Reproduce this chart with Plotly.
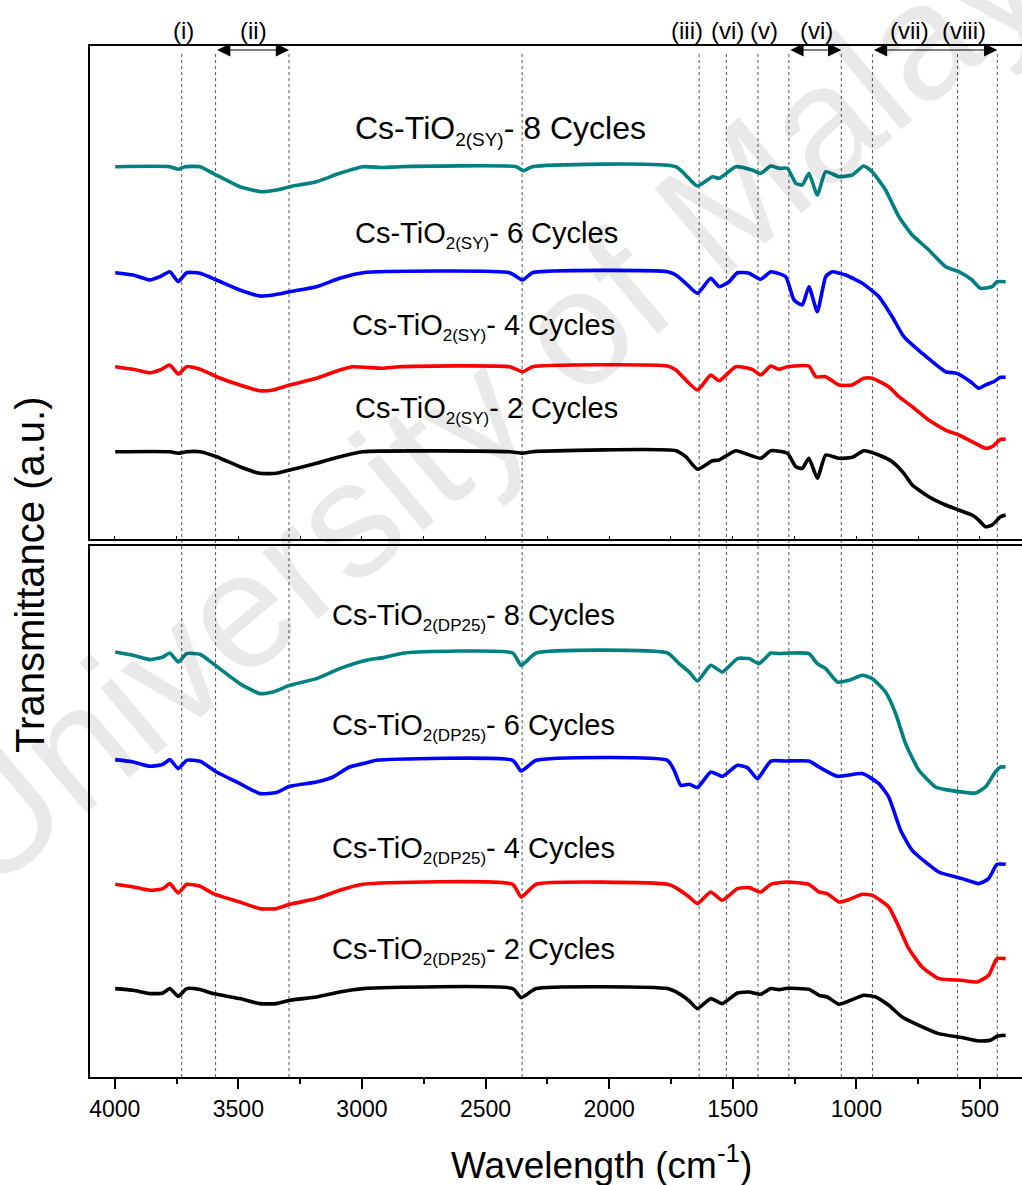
import plotly.graph_objects as go

FONT = "Arial, Liberation Sans, sans-serif"

# ---- FTIR spectra: wavenumber (cm-1) and offset transmittance (a.u.) ----
# Cs-TiO2(SY) series (upper panel)
wn_sy8 = [3998, 3777, 3743, 3716, 3655, 3602, 3494, 3406, 3346, 3292, 3184, 3090, 2996, 2916, 2848,
          2376, 2347, 2310, 1730, 1643, 1582, 1555, 1488, 1421, 1387, 1346, 1313, 1279, 1245, 1219,
          1192, 1158, 1124, 1070, 1017, 970, 936, 882, 828, 774, 707, 639, 586, 532, 498, 451, 431, 396]
t_sy8 = [372.3, 372.3, 369.7, 372.3, 372.3, 365.7, 352.3, 347.3, 349.0, 352.3, 357.3, 365.7, 372.3, 371.5, 372.3,
         372.3, 368.3, 372.3, 372.3, 353.0, 362.3, 360.7, 372.3, 369.0, 365.7, 373.0, 370.7, 370.7, 355.7, 354.0,
         365.7, 344.0, 367.3, 362.3, 364.0, 373.0, 367.3, 349.0, 322.3, 304.0, 289.0, 272.3, 267.3, 259.0, 250.7,
         252.3, 257.3, 257.3]

wn_sy6 = [3998, 3925, 3857, 3817, 3777, 3743, 3709, 3655, 3588, 3494, 3413, 3359, 3292, 3184, 3090, 2996,
          2403, 2350, 2310, 1764, 1730, 1690, 1643, 1589, 1555, 1515, 1481, 1434, 1387, 1346, 1286, 1252,
          1219, 1192, 1158, 1124, 1098, 1043, 976, 909, 855, 808, 734, 639, 593, 538, 505, 478, 444, 417, 396]
t_sy6 = [266.3, 264.0, 259.0, 262.3, 267.3, 257.3, 266.3, 265.7, 259.0, 249.0, 243.0, 244.0, 247.3, 252.3, 260.7,
         266.3, 266.3, 259.0, 266.3, 267.3, 264.0, 255.7, 245.7, 260.7, 252.3, 257.3, 266.3, 265.7, 259.7, 267.3,
         262.3, 239.0, 234.0, 252.3, 227.3, 262.3, 267.3, 264.0, 255.7, 242.3, 222.3, 202.3, 185.7, 167.3, 165.7,
         157.3, 150.7, 154.0, 157.3, 161.7, 161.7]

wn_sy4 = [3998, 3925, 3857, 3817, 3777, 3743, 3709, 3655, 3588, 3494, 3413, 3359, 3292, 3184, 3090, 3037,
          2916, 2848, 2403, 2350, 2310, 1764, 1730, 1643, 1589, 1555, 1488, 1421, 1387, 1346, 1313, 1279,
          1192, 1164, 1124, 1070, 1017, 970, 936, 869, 828, 774, 707, 639, 586, 532, 478, 451, 417, 396]
t_sy4 = [172.3, 169.7, 166.3, 169.0, 174.0, 165.0, 172.3, 169.7, 162.3, 154.0, 148.3, 149.0, 154.0, 160.7, 169.0,
         172.3, 170.7, 172.3, 172.3, 167.3, 172.3, 173.0, 169.0, 149.0, 164.0, 158.3, 172.3, 169.7, 164.0, 173.0,
         169.7, 172.3, 173.0, 162.3, 162.3, 154.0, 154.0, 160.7, 160.7, 152.3, 142.3, 132.3, 119.0, 109.0, 104.0,
         97.3, 90.7, 92.3, 99.7, 99.7]

wn_sy2 = [3998, 3777, 3743, 3709, 3655, 3588, 3494, 3413, 3346, 3292, 3184, 3090, 2996, 2403, 2350, 2310,
          1730, 1690, 1643, 1582, 1555, 1488, 1387, 1346, 1279, 1245, 1219, 1192, 1158, 1124, 1070, 1017,
          970, 909, 855, 808, 774, 707, 639, 586, 532, 505, 478, 451, 417, 396]
t_sy2 = [87.3, 87.3, 85.7, 87.3, 87.3, 82.3, 72.3, 65.7, 65.7, 69.0, 75.7, 82.3, 87.3, 87.3, 85.7, 87.3,
         88.3, 82.3, 69.7, 78.3, 79.0, 88.3, 80.7, 88.3, 85.7, 72.3, 70.7, 80.7, 60.7, 84.0, 80.7, 81.7,
         88.3, 84.0, 77.3, 65.7, 54.0, 42.3, 34.0, 29.0, 24.0, 19.0, 12.3, 14.0, 22.3, 24.0]

# Cs-TiO2(DP25) series (lower panel)
wn_dp8 = [3998, 3925, 3857, 3805, 3777, 3743, 3709, 3655, 3602, 3494, 3413, 3359, 3292, 3184, 3090, 2982,
          2915, 2827, 2390, 2356, 2295, 1764, 1717, 1676, 1643, 1589, 1542, 1481, 1434, 1394, 1346, 1313,
          1272, 1192, 1158, 1124, 1077, 1030, 976, 936, 882, 841, 801, 747, 680, 639, 518, 478, 438, 417, 396]
t_dp8 = [425.0, 421.7, 417.4, 420.0, 424.0, 415.0, 423.4, 422.7, 413.4, 393.4, 383.4, 385.0, 391.7, 398.4, 408.4,
         416.7, 419.4, 424.0, 424.0, 411.7, 424.0, 424.0, 413.4, 405.0, 396.0, 411.7, 405.0, 418.4, 418.4, 413.4,
         424.0, 423.4, 424.0, 423.4, 413.4, 408.4, 395.0, 396.7, 401.7, 398.4, 385.0, 363.4, 333.4, 306.7, 290.0,
         287.4, 284.0, 290.0, 305.0, 310.0, 310.0]

wn_dp6 = [3998, 3925, 3857, 3805, 3777, 3743, 3709, 3655, 3588, 3494, 3413, 3346, 3292, 3184, 3117, 3050,
          2969, 2942, 2390, 2356, 2295, 1764, 1737, 1710, 1676, 1643, 1589, 1542, 1481, 1441, 1400, 1346,
          1286, 1192, 1151, 1077, 976, 909, 869, 821, 774, 667, 572, 505, 465, 431, 396]
t_dp6 = [317.4, 315.0, 310.7, 312.7, 317.4, 308.4, 316.7, 315.7, 305.0, 293.4, 283.4, 284.4, 290.7, 295.0, 300.0,
         310.0, 315.0, 316.7, 316.7, 306.0, 316.7, 316.7, 306.7, 291.7, 292.7, 289.4, 305.0, 300.7, 311.7, 309.4,
         298.4, 316.0, 316.0, 316.0, 310.0, 300.7, 303.4, 293.4, 280.0, 246.7, 226.7, 205.0, 198.4, 193.4, 198.4,
         212.7, 212.7]

wn_dp4 = [3998, 3925, 3857, 3805, 3777, 3743, 3709, 3655, 3602, 3494, 3413, 3346, 3292, 3184, 3090, 2996,
          2390, 2356, 2295, 1764, 1724, 1676, 1643, 1589, 1542, 1481, 1434, 1387, 1346, 1279, 1192, 1151,
          1118, 1070, 1030, 976, 936, 869, 828, 788, 734, 667, 572, 512, 465, 431, 396]
t_dp4 = [192.7, 190.0, 186.7, 188.4, 193.4, 184.0, 192.7, 190.7, 183.4, 175.0, 168.4, 168.4, 172.7, 178.4, 186.7,
         192.7, 192.7, 180.0, 192.7, 192.7, 188.4, 180.0, 173.4, 185.0, 176.7, 188.4, 189.4, 185.0, 192.7, 195.0,
         192.7, 185.0, 183.4, 175.0, 177.4, 182.7, 181.7, 170.0, 150.0, 128.4, 110.0, 98.4, 96.7, 95.0, 101.7,
         118.4, 118.4]

wn_dp2 = [3998, 3925, 3857, 3805, 3777, 3743, 3709, 3655, 3602, 3494, 3413, 3346, 3292, 3184, 3090, 2996,
          2390, 2356, 2295, 1764, 1717, 1676, 1643, 1589, 1542, 1481, 1434, 1387, 1346, 1313, 1279, 1192,
          1151, 1118, 1070, 1023, 970, 922, 869, 815, 747, 667, 572, 505, 458, 431, 396]
t_dp2 = [88.4, 86.7, 83.4, 84.0, 88.4, 80.7, 88.4, 87.4, 83.4, 78.4, 73.4, 73.4, 76.7, 80.0, 85.0, 88.4,
         88.4, 79.4, 88.4, 88.4, 83.4, 76.0, 68.4, 78.4, 73.4, 84.0, 85.0, 82.7, 88.4, 87.4, 88.7, 87.7,
         81.7, 80.0, 72.7, 76.7, 81.7, 80.0, 71.7, 60.0, 51.7, 43.4, 39.4, 36.0, 36.7, 40.7, 41.7]

# series labels (sample name, support, cycles)
sy_cycles = ["8", "6", "4", "2"]
dp_cycles = ["8", "6", "4", "2"]
colors = ["#008080", "#0000FF", "#FF0000", "#000000"]


def sample_label(support, cycles, sub_px):
    return ("Cs-TiO<sub><span style='font-size:%dpx'>2(%s)</span></sub>- %s Cycles"
            % (sub_px, support, cycles))


# band assignments marked across both panels
band_lines = [3729, 3592, 3295, 2352, 1636, 1526, 1398, 1273, 1061, 935, 591, 430]
band_names = ["(i)", "(ii)", "(iii)", "(vi)", "(v)", "(vi)", "(vii)", "(viii)"]
band_name_pos = [3720, 3437, 1684, 1523, 1373, 1163, 787, 565]
band_spans = [(3592, 3295), (1273, 1061), (935, 430)]

tick_vals = [4000, 3500, 3000, 2500, 2000, 1500, 1000, 500]

fig = go.Figure()

sy = [(wn_sy8, t_sy8), (wn_sy6, t_sy6), (wn_sy4, t_sy4), (wn_sy2, t_sy2)]
dp = [(wn_dp8, t_dp8), (wn_dp6, t_dp6), (wn_dp4, t_dp4), (wn_dp2, t_dp2)]

for (wn, t), c, cyc in zip(sy, colors, sy_cycles):
    fig.add_trace(go.Scatter(x=wn, y=t, mode="lines", name="Cs-TiO2(SY) %s cycles" % cyc,
                             xaxis="x2", yaxis="y2",
                             line=dict(color=c, width=3.6, shape="spline", smoothing=0.5),
                             showlegend=False))
for (wn, t), c, cyc in zip(dp, colors, dp_cycles):
    fig.add_trace(go.Scatter(x=wn, y=t, mode="lines", name="Cs-TiO2(DP25) %s cycles" % cyc,
                             xaxis="x", yaxis="y",
                             line=dict(color=c, width=3.6, shape="spline", smoothing=0.5),
                             showlegend=False))

# dotted guide lines through both panels
for w in band_lines:
    fig.add_shape(type="line", xref="x", yref="paper", x0=w, x1=w, y0=0, y1=0.994,
                  line=dict(color="#555555", width=1, dash="dot"), layer="below")

annotations = []

# watermark
annotations.append(dict(text="University of Malaya", xref="paper", yref="paper", x=0.46, y=0.68,
                        xanchor="center", yanchor="middle",
                        showarrow=False, textangle=-40,
                        font=dict(family=FONT, size=165, color="rgba(0,0,0,0.085)")))

# series labels
sy_label_y = [409, 304, 212, 129]
sy_label_x = [3037, 3037, 3047, 3037]
sy_font = [32, 29, 29, 29]
sy_sub = [19, 17, 17, 17]
for cyc, xv, yv, fs, ss in zip(sy_cycles, sy_label_x, sy_label_y, sy_font, sy_sub):
    annotations.append(dict(text=sample_label("SY", cyc, ss), xref="x2", yref="y2", x=xv, y=yv,
                            xanchor="left", yanchor="middle", showarrow=False,
                            font=dict(family=FONT, size=fs, color="black")))
dp_label_y = [460, 350, 227, 126]
for cyc, yv in zip(dp_cycles, dp_label_y):
    annotations.append(dict(text=sample_label("DP25", cyc, 17), xref="x", yref="y", x=3130, y=yv,
                            xanchor="left", yanchor="middle", showarrow=False,
                            font=dict(family=FONT, size=29, color="black")))

# band names above the frame
for txt, xv in zip(band_names, band_name_pos):
    annotations.append(dict(text=txt, xref="x", yref="paper", x=xv, y=1.0152, xanchor="center",
                            yanchor="middle", showarrow=False,
                            font=dict(family=FONT, size=24, color="black")))

# double-headed arrows spanning bands
for a, b in band_spans:
    annotations.append(dict(text="", xref="x2", yref="y2", axref="x2", ayref="y2",
                            x=b, y=489, ax=a, ay=489, showarrow=True, arrowside="end+start",
                            arrowhead=2, arrowsize=2.2, arrowwidth=1.2, arrowcolor="black"))

# axis titles
annotations.append(dict(text="Wavelength (cm<sup>-1</sup>)", xref="x", yref="paper", x=2032, y=-0.0834,
                        xanchor="center", yanchor="middle", showarrow=False,
                        font=dict(family=FONT, size=37, color="black")))
annotations.append(dict(text="Transmittance (a.u.)", xref="paper", yref="paper", x=-0.0644, y=0.487,
                        xanchor="center", yanchor="middle", showarrow=False, textangle=-90,
                        font=dict(family=FONT, size=40, color="black")))

axis_common = dict(range=[4100, 330], showgrid=False, zeroline=False, showline=True,
                   linecolor="black", linewidth=2)

fig.update_layout(
    width=1022, height=1185,
    margin=dict(l=90, r=0, t=46, b=108),
    paper_bgcolor="white", plot_bgcolor="rgba(0,0,0,0)",
    font=dict(family=FONT, color="black"),
    xaxis=dict(**axis_common, domain=[0, 1], anchor="y", mirror=True,
               tickvals=tick_vals, ticks="outside", ticklen=10, tickwidth=2, tickcolor="black",
               tickfont=dict(family=FONT, size=23, color="black"),
               minor=dict(tickvals=[3750, 3250, 2750, 2250, 1750, 1250, 750], ticks="outside",
                          ticklen=5, tickwidth=2, tickcolor="black")),
    xaxis2=dict(**axis_common, domain=[0, 1], anchor="y2", mirror=True, matches="x",
                showticklabels=False, tickvals=[4000, 3750, 3500, 3250, 3000, 2750, 2500, 2250,
                                                2000, 1750, 1500, 1250, 1000, 750, 500],
                ticks="inside", ticklen=3, tickwidth=1, tickcolor="black"),
    yaxis=dict(domain=[0, 0.5153], range=[0, 531.3], showgrid=False, zeroline=False,
               showline=True, linecolor="black", linewidth=2, showticklabels=False, ticks=""),
    yaxis2=dict(domain=[0.5218, 1], range=[0, 493], showgrid=False, zeroline=False,
                showline=True, linecolor="black", linewidth=2, showticklabels=False, ticks=""),
    annotations=annotations,
)

fig.write_html("out.html")
